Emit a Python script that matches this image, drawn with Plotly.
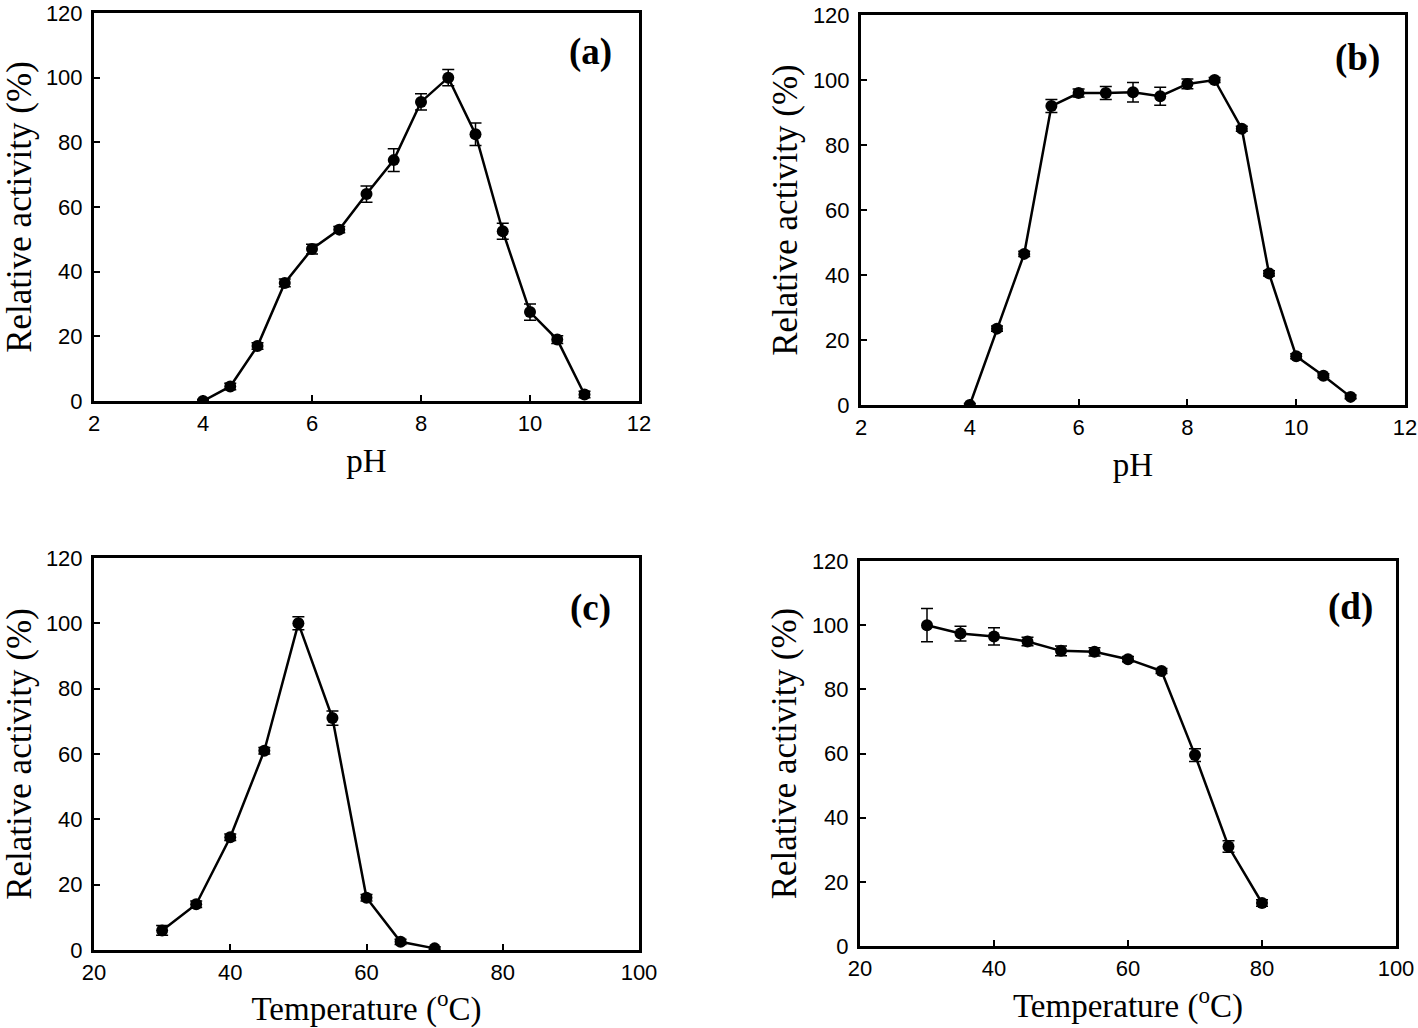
import plotly.graph_objects as go

W, H = 1418, 1028

# ---- data ----
ph = [4, 4.5, 5, 5.5, 6, 6.5, 7, 7.5, 8, 8.5, 9, 9.5, 10, 10.5, 11]
act_a = [0, 4.5, 17, 36.5, 47, 53, 64, 74.5, 92.5, 100, 82.5, 52.5, 27.5, 19, 2]
err_a = [0.5, 1, 1, 1.2, 1.5, 1, 2.5, 3.5, 2.5, 2.5, 3.5, 2.5, 2.5, 1.2, 1]
act_b = [0, 23.5, 46.5, 92, 96, 96, 96.2, 95, 98.8, 100, 85, 40.5, 15, 9, 2.5]
err_b = [0.5, 0.8, 0.8, 2, 1.2, 2, 3, 2.8, 1.5, 0.8, 0.8, 0.8, 0.8, 0.6, 0.6]

temp_c = [30, 35, 40, 45, 50, 55, 60, 65, 70]
act_c = [6, 14, 34.5, 61, 100, 71, 16, 2.5, 0.5]
err_c = [1.5, 1, 1, 1, 2, 2.2, 1, 0.8, 0.5]

temp_d = [30, 35, 40, 45, 50, 55, 60, 65, 70, 75, 80]
act_d = [100, 97.4, 96.5, 94.9, 92, 91.7, 89.4, 85.7, 59.5, 31, 13.4]
err_d = [5.2, 2.3, 2.7, 1.3, 1.5, 1.3, 0.8, 0.8, 2, 1.8, 1]

panel_labels = ["(a)", "(b)", "(c)", "(d)"]
ph_ticks = [2, 4, 6, 8, 10, 12]
temp_ticks = [20, 40, 60, 80, 100]
act_ticks = [0, 20, 40, 60, 80, 100, 120]

# panel pixel boxes: left, right, top, bottom
boxes = [(94, 639, 13, 401), (861, 1405, 15, 405), (94, 639, 558, 950), (860, 1396, 561, 946)]
series = [(ph, act_a, err_a), (ph, act_b, err_b), (temp_c, act_c, err_c), (temp_d, act_d, err_d)]
xranges = [[2, 12], [2, 12], [20, 100], [20, 100]]
xticks = [ph_ticks, ph_ticks, temp_ticks, temp_ticks]
xtitles = ["pH", "pH", "Temperature (<sup>o</sup>C)", "Temperature (<sup>o</sup>C)"]
label_pos = [(590, 52), (1357, 58), (590, 608), (1350, 607)]

serif = "Liberation Serif, Times New Roman, serif"
sans = "Liberation Sans, Arial, sans-serif"

fig = go.Figure()
layout = dict(width=W, height=H, margin=dict(l=0, r=0, t=0, b=0, autoexpand=False),
              template="none",
              paper_bgcolor="white", plot_bgcolor="white", showlegend=False,
              annotations=[])

for i, ((l, r, t, b), (xs, ys, es)) in enumerate(zip(boxes, series)):
    n = "" if i == 0 else str(i + 1)
    fig.add_trace(go.Scatter(
        x=xs, y=ys, mode="lines+markers",
        line=dict(color="black", width=2.5),
        marker=dict(color="black", size=12),
        error_y=dict(type="data", array=es, visible=True, color="black",
                     thickness=1.5, width=6),
        xaxis="x" + n, yaxis="y" + n))
    axfont = dict(family=sans, size=22, color="black")
    layout["xaxis" + n] = dict(
        domain=[l / W, r / W], anchor="y" + n, range=xranges[i],
        tickvals=xticks[i], ticks="inside", ticklen=6, tickwidth=1.5,
        tickcolor="black", showline=True, linecolor="black", linewidth=3,
        mirror=True, showgrid=False, zeroline=False, tickfont=axfont,
        automargin=False, ticklabelstandoff=1, ticklabeloverflow="allow",
        title=dict(text=xtitles[i], font=dict(family=serif, size=33, color="black"), standoff=14))
    layout["yaxis" + n] = dict(
        domain=[(H - b) / H, (H - t) / H], anchor="x" + n, range=[0, 120],
        tickvals=act_ticks, ticks="inside", ticklen=6, tickwidth=1.5,
        tickcolor="black", showline=True, linecolor="black", linewidth=3,
        mirror=True, showgrid=False, zeroline=False, tickfont=axfont,
        automargin=False, ticklabelstandoff=4, ticklabeloverflow="allow",
        title=dict(text="Relative activity (%)", font=dict(family=serif, size=35, color="black"), standoff=5))
    lx, ly = label_pos[i]
    layout["annotations"].append(dict(
        text="<b>" + panel_labels[i] + "</b>", x=lx / W, y=(H - ly) / H,
        xref="paper", yref="paper", showarrow=False, xanchor="center", yanchor="middle",
        font=dict(family=serif, size=37, color="black")))

fig.update_layout(**layout)
fig.write_html("out.html", config={"displayModeBar": False},
               post_script="document.body.style.margin='0';")
